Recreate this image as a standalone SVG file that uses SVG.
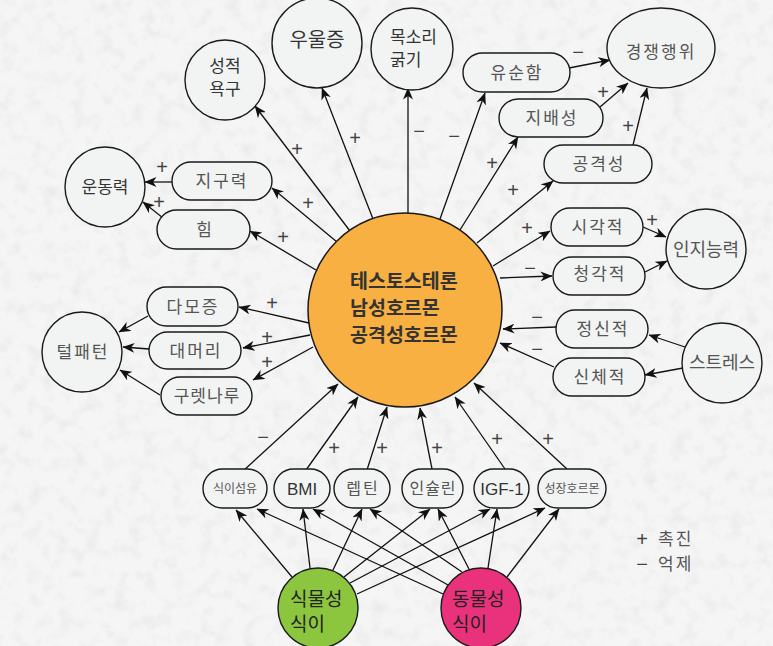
<svg xmlns="http://www.w3.org/2000/svg" width="773" height="646" viewBox="0 0 773 646">
<defs>
<filter id="noise" x="0" y="0" width="100%" height="100%">
<feTurbulence type="fractalNoise" baseFrequency="0.07" numOctaves="4" seed="7" result="n"/>
<feColorMatrix in="n" type="matrix" values="0 0 0 0 0.7  0 0 0 0 0.7  0 0 0 0 0.7  0.9 0 0 0 -0.42"/>
</filter>
<marker id="a" viewBox="0 0 12 10" refX="11.5" refY="5" markerWidth="12" markerHeight="10" markerUnits="userSpaceOnUse" orient="auto">
<path d="M0,0 L12,5 L0,10 L3.5,5 z" fill="#111"/>
</marker>
<style>
.n{fill:#f2f3f3;stroke:#1a1a1a;stroke-width:1.4}
.t{font-family:"Noto Sans CJK KR",sans-serif;font-size:17px;fill:#555;text-anchor:middle}
.s{fill:#333}
.sp{letter-spacing:2px}
.e{stroke:#111;stroke-width:1.3;fill:none;marker-end:url(#a)}
.l{font-family:"Liberation Sans",sans-serif;font-size:20px;fill:#444;text-anchor:middle}
.en{font-family:"Liberation Sans",sans-serif;font-size:17px;fill:#333;text-anchor:middle}
.big{font-family:"Noto Sans CJK KR",sans-serif;font-size:19px;fill:#222}
.ct{font-family:"Noto Sans CJK KR",sans-serif;font-size:19.5px;font-weight:bold;fill:#333}
</style>
</defs>
<rect width="773" height="646" fill="#f5f5f5"/>
<rect width="773" height="646" filter="url(#noise)"/>

<g id="connectors">
<line class="e" x1="350" y1="231" x2="255" y2="106"/>
<line class="e" x1="373" y1="219" x2="322" y2="88"/>
<line class="e" x1="337" y1="242" x2="272" y2="188"/>
<line class="e" x1="316" y1="270" x2="250" y2="231"/>
<line class="e" x1="172" y1="182" x2="145" y2="182"/>
<line class="e" x1="163" y1="218" x2="143" y2="202"/>
<line class="e" x1="408" y1="214" x2="408" y2="88"/>
<line class="e" x1="440" y1="219" x2="485" y2="93"/>
<line class="e" x1="460" y1="230" x2="518" y2="137"/>
<line class="e" x1="477" y1="243" x2="553" y2="181"/>
<line class="e" x1="493" y1="266" x2="550" y2="231"/>
<line class="e" x1="500" y1="278" x2="552" y2="276"/>
<line class="e" x1="569" y1="68" x2="610" y2="60"/>
<line class="e" x1="600" y1="107" x2="628" y2="83"/>
<line class="e" x1="633" y1="145" x2="647" y2="88"/>
<line class="e" x1="643" y1="227" x2="666" y2="237"/>
<line class="e" x1="645" y1="272" x2="667" y2="261"/>
<line class="e" x1="556" y1="327" x2="503" y2="329"/>
<line class="e" x1="554" y1="367" x2="500" y2="343"/>
<line class="e" x1="685" y1="347" x2="649" y2="335"/>
<line class="e" x1="683" y1="368" x2="645" y2="375"/>
<line class="e" x1="309" y1="323" x2="239" y2="307"/>
<line class="e" x1="310" y1="335" x2="243" y2="348"/>
<line class="e" x1="313" y1="347" x2="253" y2="380"/>
<line class="e" x1="148" y1="316" x2="119" y2="332"/>
<line class="e" x1="149" y1="349" x2="123" y2="347"/>
<line class="e" x1="160" y1="395" x2="120" y2="370"/>
<line class="e" x1="243" y1="471" x2="338" y2="384"/>
<line class="e" x1="306" y1="470" x2="358" y2="397"/>
<line class="e" x1="367" y1="470" x2="387" y2="407"/>
<line class="e" x1="432" y1="469" x2="420" y2="408"/>
<line class="e" x1="505" y1="469" x2="455" y2="397"/>
<line class="e" x1="567" y1="469" x2="474" y2="383"/>
<line class="e" x1="292" y1="577" x2="236" y2="510"/>
<line class="e" x1="310" y1="568" x2="303" y2="509"/>
<line class="e" x1="333" y1="570" x2="362" y2="509"/>
<line class="e" x1="344" y1="577" x2="430" y2="509"/>
<line class="e" x1="350" y1="583" x2="490" y2="509"/>
<line class="e" x1="357" y1="594" x2="545" y2="508"/>
<line class="e" x1="443" y1="594" x2="257" y2="509"/>
<line class="e" x1="448" y1="585" x2="313" y2="509"/>
<line class="e" x1="462" y1="572" x2="370" y2="509"/>
<line class="e" x1="469" y1="569" x2="438" y2="509"/>
<line class="e" x1="488" y1="568" x2="497" y2="509"/>
<line class="e" x1="507" y1="577" x2="559" y2="509"/>
</g>

<g id="labels">
<text class="l" x="297" y="156">+</text>
<text class="l" x="355" y="145">+</text>
<text class="l" x="308" y="210">+</text>
<text class="l" x="283" y="244">+</text>
<text class="l" x="162" y="174">+</text>
<text class="l" x="159" y="209">+</text>
<text class="l" x="419" y="138">−</text>
<text class="l" x="454" y="143">−</text>
<text class="l" x="492" y="170">+</text>
<text class="l" x="513" y="197">+</text>
<text class="l" x="578" y="59">−</text>
<text class="l" x="603" y="99">+</text>
<text class="l" x="628" y="133">+</text>
<text class="l" x="527" y="235">+</text>
<text class="l" x="652" y="227">+</text>
<text class="l" x="530" y="275">−</text>
<text class="l" x="537" y="324">−</text>
<text class="l" x="537" y="356">−</text>
<text class="l" x="272" y="310">+</text>
<text class="l" x="267" y="344">+</text>
<text class="l" x="267" y="369">+</text>
<text class="l" x="263" y="444">−</text>
<text class="l" x="334" y="455">+</text>
<text class="l" x="382" y="455">+</text>
<text class="l" x="437" y="455">+</text>
<text class="l" x="497" y="446">+</text>
<text class="l" x="548" y="446">+</text>
</g>

<g id="center">
<circle cx="405" cy="310" r="97" fill="#f8b042" stroke="#1a1a1a" stroke-width="1.5"/>
<text class="ct" x="350" y="288">테스토스테론</text>
<text class="ct" x="350" y="315">남성호르몬</text>
<text class="ct" x="350" y="342">공격성호르몬</text>
</g>

<g id="n-sexdrive"><circle class="n" cx="225" cy="80" r="40"/><text class="t s" x="225" y="72">성적</text><text class="t s" x="225" y="95">욕구</text></g>
<g id="n-depression"><circle class="n" cx="317" cy="43" r="45"/><text class="t s" x="317" y="47" style="font-size:20px">우울증</text></g>
<g id="n-voice"><circle class="n" cx="412" cy="49" r="41"/><text class="t s" x="390" y="43" style="text-anchor:start">목소리</text><text class="t s" x="390" y="66" style="text-anchor:start">굵기</text></g>
<g id="n-motor"><circle class="n" cx="105" cy="187" r="40"/><text class="t s" x="105" y="193">운동력</text></g>
<g id="n-endurance"><rect class="n" x="172" y="162" width="100" height="38" rx="19"/><text class="t sp" x="222" y="187">지구력</text></g>
<g id="n-strength"><rect class="n" x="157" y="210" width="93" height="39" rx="19.5"/><text class="t" x="204" y="236">힘</text></g>
<g id="n-docile"><rect class="n" x="463" y="53" width="107" height="39" rx="19.5"/><text class="t sp" x="517" y="79">유순함</text></g>
<g id="n-dominance"><rect class="n" x="499" y="99" width="104" height="38" rx="19"/><text class="t sp" x="552" y="124">지배성</text></g>
<g id="n-aggression"><rect class="n" x="544" y="145" width="108" height="38" rx="19"/><text class="t sp" x="599" y="170">공격성</text></g>
<g id="n-competition"><ellipse class="n" cx="661" cy="48" rx="54" ry="40"/><text class="t sp" x="661" y="58">경쟁행위</text></g>
<g id="n-visual"><rect class="n" x="551" y="208" width="92" height="38" rx="19"/><text class="t sp" x="598" y="233">시각적</text></g>
<g id="n-auditory"><rect class="n" x="553" y="257" width="92" height="38" rx="19"/><text class="t sp" x="600" y="280">청각적</text></g>
<g id="n-cognition"><circle class="n" cx="706" cy="249" r="40"/><text class="t" x="706" y="256" style="font-size:18px">인지능력</text></g>
<g id="n-mental"><rect class="n" x="556" y="310" width="92" height="38" rx="19"/><text class="t sp" x="603" y="335">정신적</text></g>
<g id="n-physical"><rect class="n" x="553" y="358" width="92" height="38" rx="19"/><text class="t sp" x="600" y="383">신체적</text></g>
<g id="n-stress"><circle class="n" cx="722" cy="363" r="40"/><text class="t" x="722" y="369" style="font-size:18px">스트레스</text></g>
<g id="n-hirsutism"><rect class="n" x="147" y="287" width="91" height="39" rx="19.5"/><text class="t sp" x="193" y="313">다모증</text></g>
<g id="n-baldness"><rect class="n" x="149" y="332" width="92" height="37" rx="18.5"/><text class="t sp" x="196" y="357">대머리</text></g>
<g id="n-sideburns"><rect class="n" x="161" y="377" width="91" height="38" rx="19"/><text class="t" x="207" y="402" style="letter-spacing:1px">구렛나루</text></g>
<g id="n-hair"><circle class="n" cx="82" cy="352" r="40"/><text class="t sp" x="83" y="358">털패턴</text></g>

<g id="n-fiber"><rect class="n" x="203" y="469" width="64" height="39" rx="19.5"/><text class="t" x="235" y="493" style="font-size:12px">식이섬유</text></g>
<g id="n-bmi"><rect class="n" x="274" y="469" width="56" height="39" rx="19.5"/><text class="en" x="302" y="495">BMI</text></g>
<g id="n-leptin"><rect class="n" x="334" y="469" width="56" height="39" rx="19.5"/><text class="t sp" x="363" y="494" style="font-size:16px">렙틴</text></g>
<g id="n-insulin"><rect class="n" x="402" y="469" width="61" height="39" rx="19.5"/><text class="t" x="433" y="494" style="font-size:16px;letter-spacing:1px">인슐린</text></g>
<g id="n-igf"><rect class="n" x="474" y="469" width="55" height="39" rx="19.5"/><text class="en" x="502" y="495">IGF-1</text></g>
<g id="n-gh"><rect class="n" x="538" y="469" width="68" height="39" rx="19.5"/><text class="t" x="572" y="493" style="font-size:12px">성장호르몬</text></g>

<g id="n-plant"><circle cx="318" cy="608" r="40" fill="#8cc63f" stroke="#1a1a1a" stroke-width="1.4"/><text class="big" x="290" y="606">식물성</text><text class="big" x="290" y="631">식이</text></g>
<g id="n-animal"><circle cx="481" cy="608" r="40" fill="#ea327c" stroke="#1a1a1a" stroke-width="1.4"/><text class="big" x="452" y="606">동물성</text><text class="big" x="452" y="631">식이</text></g>

<g id="legend">
<text class="l" x="642" y="546">+</text><text class="t" x="658" y="545" style="text-anchor:start;font-size:17px;letter-spacing:2px">촉진</text>
<text class="l" x="642" y="571">−</text><text class="t" x="658" y="570" style="text-anchor:start;font-size:17px;letter-spacing:2px">억제</text>
</g>
</svg>
